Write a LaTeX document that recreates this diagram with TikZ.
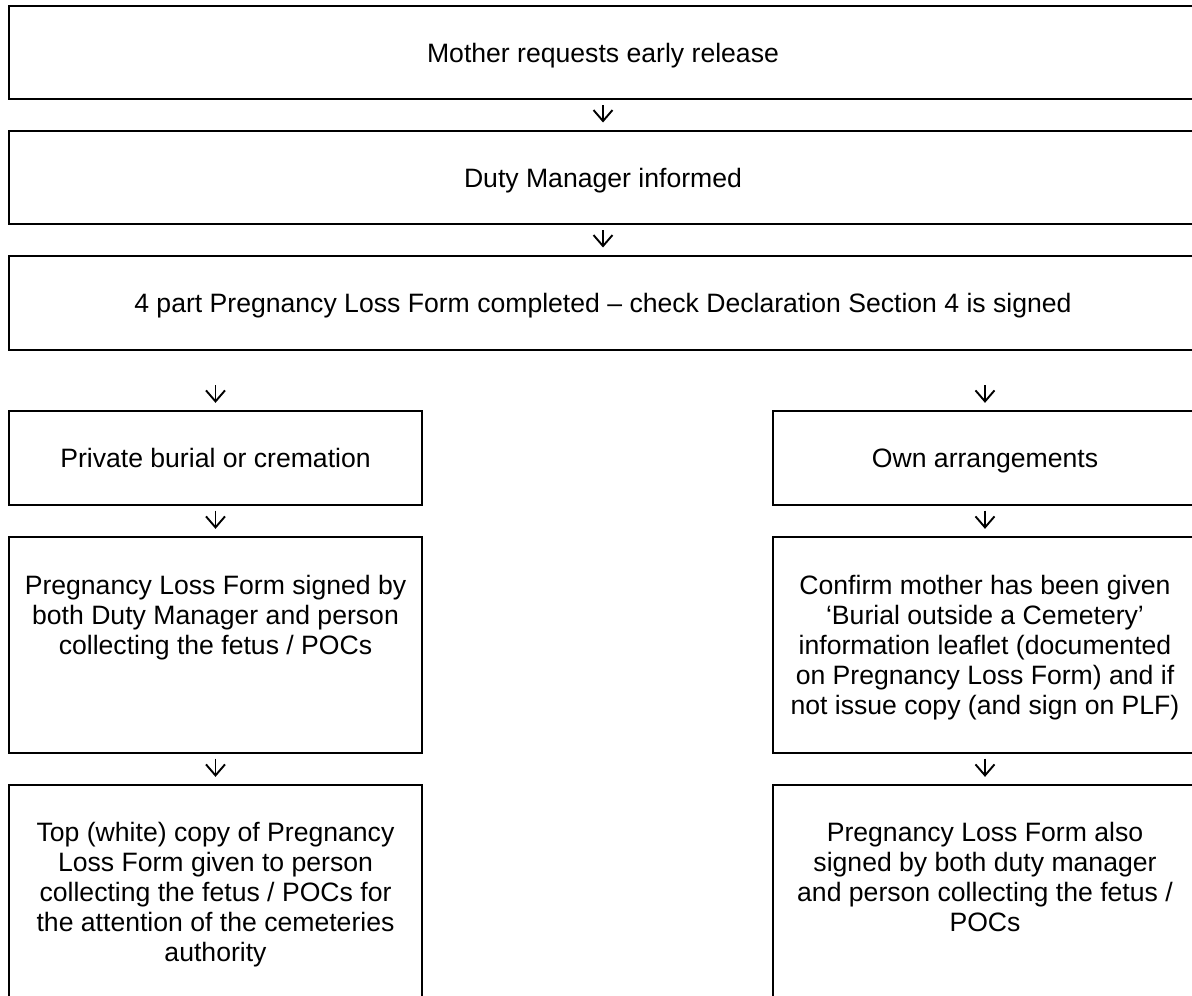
\documentclass[tikz,border=0pt]{standalone}
\usepackage{fontspec}
\setmainfont{Liberation Sans}
\usetikzlibrary{arrows.meta,positioning}

\begin{document}
\begin{tikzpicture}[x=1pt, y=-1pt,
    font=\fontsize{26.6pt}{30pt}\selectfont,
    widebox/.style={draw, line width=2pt, minimum width=1188pt, inner sep=0pt,
        text height=25pt, text depth=5.6pt},
    colbox/.style={draw, line width=1.3pt, inner sep=0pt,
        text height=25pt, text depth=5.6pt},
    words/.style={align=center, inner sep=0pt},
    flow/.style={-{Straight Barb[length=11pt, width=19pt]}, line width=1.9pt,
        shorten <=5pt, shorten >=7.5pt}]
    \useasboundingbox (0,0) rectangle (1192,996);
    \clip (0,0) rectangle (1192,996);

    \node[widebox, minimum height=93pt] (mother_request) at (603,52.5) {Mother requests early release};
    \node[widebox, minimum height=93pt] (duty_informed) at (603,177.5) {Duty Manager informed};
    \node[widebox, minimum height=94pt] (loss_form) at (603,303)
        {4 part Pregnancy Loss Form completed -- check Declaration Section 4 is signed};

    % left column
    \node[colbox, minimum width=413pt, minimum height=94pt] (private_burial) at (215.5,458)
        {Private burial or cremation};
    \node[colbox, minimum width=413pt, minimum height=216pt] (burial_signed) at (215.5,645) {};
    \node[words, below=39pt of burial_signed.north] (burial_signed_text)
        {Pregnancy Loss Form signed by\\both Duty Manager and person\\collecting the fetus / POCs};
    \node[colbox, minimum width=413pt, minimum height=216pt] (top_copy) at (215.5,893) {};
    \node[words, below=38pt of top_copy.north] (top_copy_text)
        {Top (white) copy of Pregnancy\\Loss Form given to person\\collecting the fetus / POCs for\\the attention of the cemeteries\\authority};

    % right column
    \node[colbox, minimum width=424pt, minimum height=94pt] (own_arrange) at (985,458)
        {Own arrangements};
    \node[colbox, minimum width=424pt, minimum height=216pt] (leaflet_check) at (985,645) {};
    \node[words, below=39pt of leaflet_check.north] (leaflet_check_text)
        {Confirm mother has been given\\`Burial outside a Cemetery'\\information leaflet (documented\\on Pregnancy Loss Form) and if\\not issue copy (and sign on PLF)};
    \node[colbox, minimum width=424pt, minimum height=216pt] (also_signed) at (985,893) {};
    \node[words, below=38pt of also_signed.north] (also_signed_text)
        {Pregnancy Loss Form also\\signed by both duty manager\\and person collecting the fetus /\\POCs};

    \path[flow]
        (mother_request) edge (duty_informed)
        (duty_informed) edge (loss_form)
        (loss_form.south -| private_burial) edge[shorten <=34pt] (private_burial)
        (loss_form.south -| own_arrange) edge[shorten <=34pt] (own_arrange)
        (private_burial) edge (burial_signed)
        (burial_signed) edge (top_copy)
        (own_arrange) edge (leaflet_check)
        (leaflet_check) edge (also_signed);
\end{tikzpicture}
\end{document}
